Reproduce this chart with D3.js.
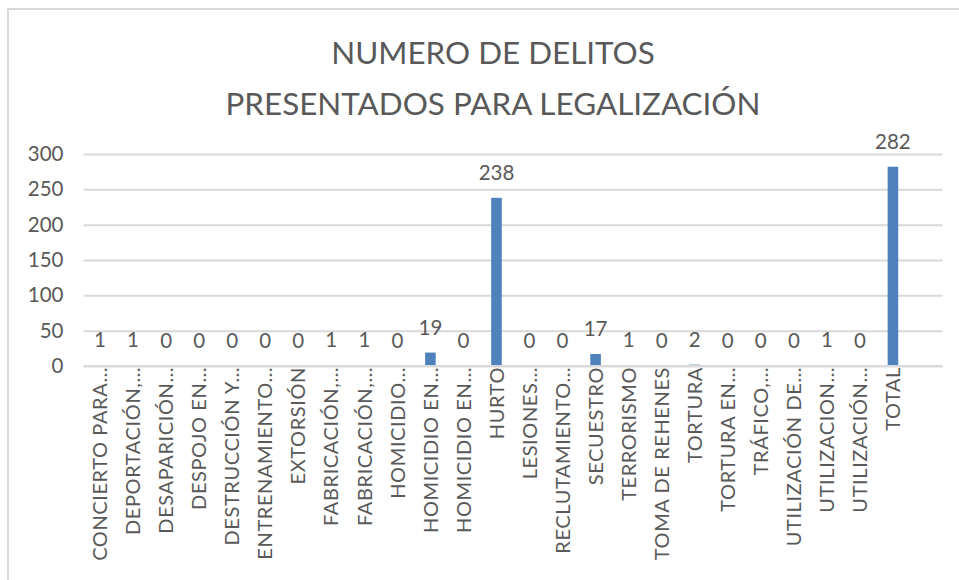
<!DOCTYPE html>
<html>
<head>
<meta charset="utf-8">
<script src="https://cdn.jsdelivr.net/npm/d3@7/dist/d3.min.js"></script>
<style>
  html, body { margin: 0; padding: 0; background: #ffffff; }
  svg { display: block; }
</style>
</head>
<body>
<svg id="chart" width="959" height="580"></svg>
<script>
// Crime categories (truncated as shown on the axis); the last slot is an empty category
const categories = [
  "CONCIERTO PARA…", "DEPORTACIÓN,…", "DESAPARICIÓN…", "DESPOJO EN…",
  "DESTRUCCIÓN Y…", "ENTRENAMIENTO…", "EXTORSIÓN", "FABRICACIÓN,…",
  "FABRICACIÓN,…", "HOMICIDIO…", "HOMICIDIO EN…", "HOMICIDIO EN…",
  "HURTO", "LESIONES…", "RECLUTAMIENTO…", "SECUESTRO", "TERRORISMO",
  "TOMA DE REHENES", "TORTURA", "TORTURA EN…", "TRÁFICO,…",
  "UTILIZACIÓN  DE…", "UTILIZACION…", "UTILIZACIÓN…", "TOTAL", ""
];
const values = [1, 1, 0, 0, 0, 0, 0, 1, 1, 0, 19, 0, 238, 0, 0, 17, 1, 0, 2, 0, 0, 0, 1, 0, 282, null];
const yTicks = [0, 50, 100, 150, 200, 250, 300];
const titleLines = ["NUMERO DE DELITOS", "PRESENTADOS PARA LEGALIZACIÓN"];

const FONT = "Lato, 'Open Sans', sans-serif";
const TEXT = "#595959";
const GRID = "#d9d9d9";
const BAR = "#4f81bd";

const svg = d3.select("#chart");

// chart frame (extends past the visible area on the right and bottom)
svg.append("rect")
  .attr("x", 8).attr("y", 9)
  .attr("width", 1200).attr("height", 1200)
  .attr("fill", "none").attr("stroke", GRID).attr("stroke-width", 2);

// title
svg.append("g").selectAll("text")
  .data(titleLines)
  .join("text")
  .attr("x", 493)
  .attr("y", (d, i) => 64 + i * 51)
  .attr("text-anchor", "middle")
  .attr("font-family", FONT)
  .attr("font-size", 31.4)
  .attr("fill", TEXT)
  .text(d => d);

const idx = d3.range(categories.length);
const x = d3.scaleBand()
  .domain(idx)
  .range([83.5, 942.5])
  .paddingInner(0.68)
  .paddingOuter(0.34);

const y = d3.scaleLinear().domain([0, 300]).range([366, 154]);

// gridlines and y tick labels
const yAxis = d3.axisLeft(y)
  .tickValues(yTicks)
  .tickSize(-(942.5 - 83.5))
  .tickPadding(20);

const gy = svg.append("g")
  .attr("transform", "translate(83.5,0)")
  .call(yAxis);
gy.select(".domain").remove();
gy.selectAll(".tick line").attr("stroke", GRID).attr("stroke-width", 2);
gy.selectAll(".tick text")
  .attr("font-family", FONT)
  .attr("font-size", 20.5)
  .attr("fill", TEXT);

// bars
svg.append("g").selectAll("rect")
  .data(idx.filter(i => values[i] != null))
  .join("rect")
  .attr("x", i => x(i))
  .attr("y", i => y(values[i]))
  .attr("width", x.bandwidth())
  .attr("height", i => y(0) - y(values[i]))
  .attr("fill", BAR);

// value labels
svg.append("g").selectAll("text")
  .data(idx.filter(i => values[i] != null))
  .join("text")
  .attr("x", i => x(i) + x.bandwidth() / 2)
  .attr("y", i => y(values[i]) - 18)
  .attr("text-anchor", "middle")
  .attr("font-family", FONT)
  .attr("font-size", 20.5)
  .attr("fill", TEXT)
  .text(i => values[i]);

// category axis with rotated labels
const xAxis = d3.axisBottom(x)
  .tickSize(0)
  .tickFormat(i => categories[i]);

const gx = svg.append("g")
  .attr("transform", `translate(0,${y(0)})`)
  .call(xAxis);
gx.select(".domain")
  .attr("d", "M83.5,0H942.5")
  .attr("stroke", GRID).attr("stroke-width", 2);
gx.selectAll(".tick text")
  .attr("font-family", FONT)
  .attr("font-size", 20)
  .attr("letter-spacing", "0.6px")
  .attr("fill", TEXT)
  .attr("text-anchor", "end")
  .attr("transform", "rotate(-90)")
  .attr("x", -1)
  .attr("y", 0)
  .attr("dy", "0.36em");
</script>
</body>
</html>
